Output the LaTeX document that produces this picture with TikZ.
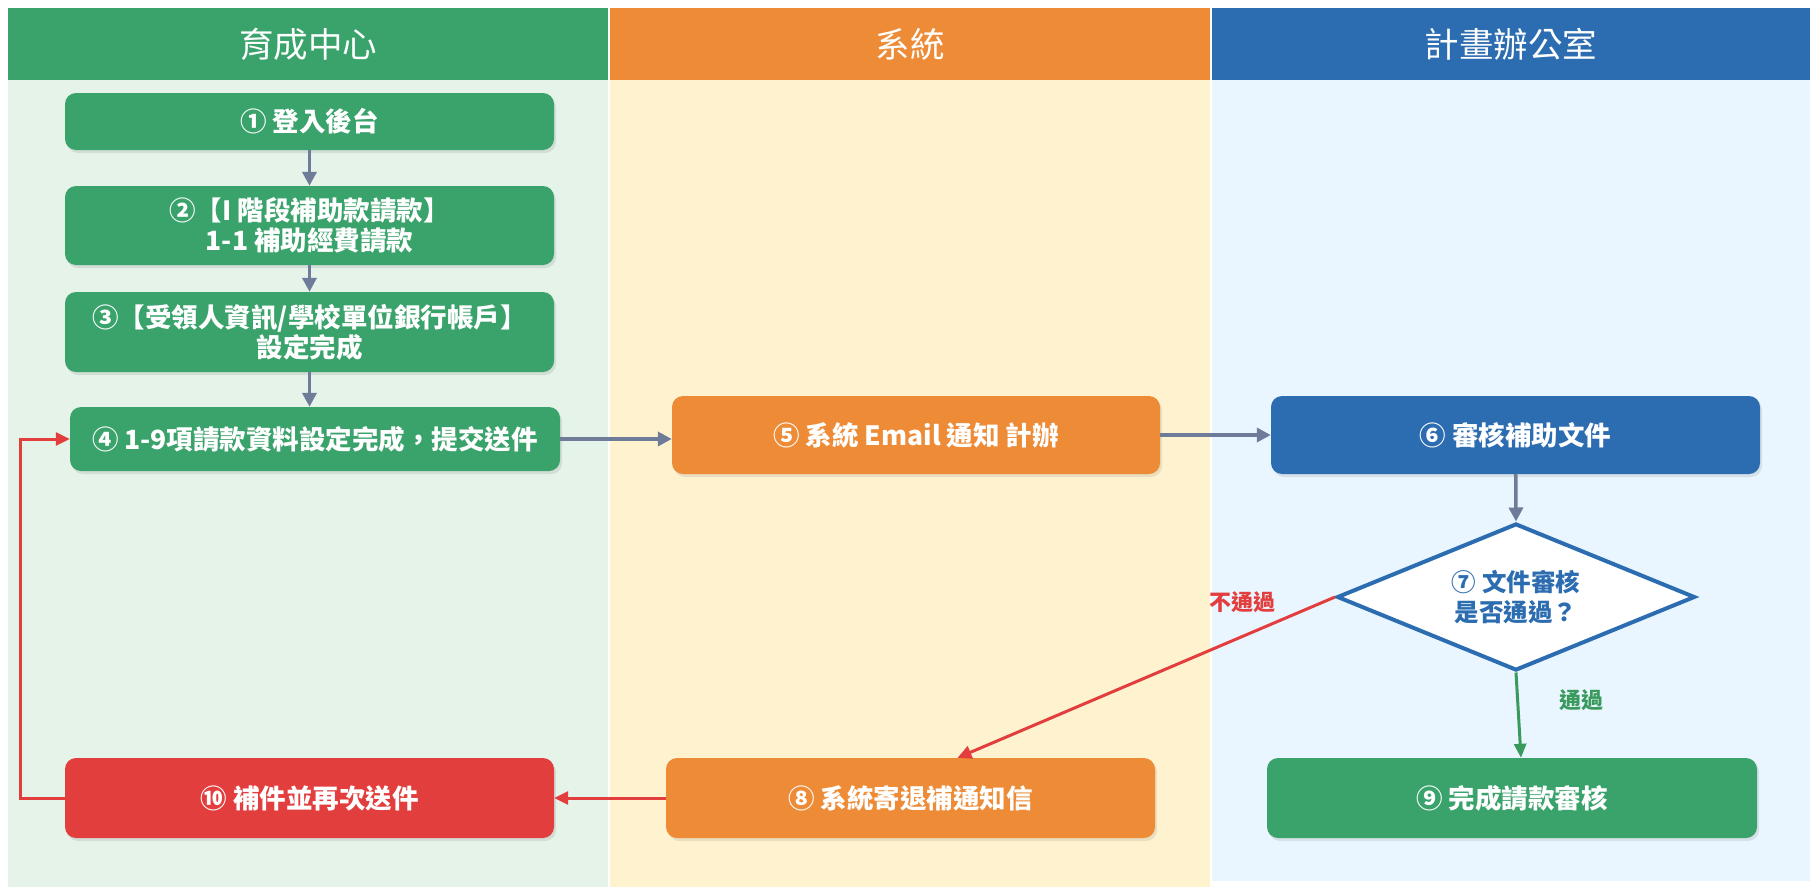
\documentclass[tikz,border=0pt]{standalone}
\usepackage{fontspec}
\setmainfont{Noto Sans CJK TC}
\usetikzlibrary{shapes.geometric,arrows.meta,shadows}
\definecolor{hgreen}{HTML}{3AA36B}
\definecolor{horange}{HTML}{ED8B37}
\definecolor{hblue}{HTML}{2C6CB0}
\definecolor{lgreen}{HTML}{E5F3E8}
\definecolor{lyellow}{HTML}{FFF3CF}
\definecolor{lblue}{HTML}{EAF6FF}
\definecolor{hred}{HTML}{E33E3E}
\definecolor{agray}{HTML}{6E7B99}
\definecolor{gline}{HTML}{3A9A5E}
\begin{document}
\begin{tikzpicture}[x=1pt,y=-1pt,
  hdr/.style={text=white,font=\fontsize{34.5}{40}\selectfont},
  box/.style={rounded corners=11pt,text=white,align=center,inner sep=0pt,
    font=\bfseries\fontsize{26.5}{30}\selectfont,
    drop shadow={opacity=0.18,shadow xshift=2pt,shadow yshift=-3pt}},
  garrow/.style={draw=agray,line width=3.5pt,-{Triangle[length=14pt,width=14pt]}},
  rarrow/.style={draw=hred,line width=3pt,-{Triangle[length=14pt,width=13pt]}},
  gnarrow/.style={draw=gline,line width=3pt,-{Triangle[length=14pt,width=12pt]}},
  lbl/.style={font=\bfseries\fontsize{22}{24}\selectfont}
]
\useasboundingbox (0,0) rectangle (1810,887);
\fill[white] (0,0) rectangle (1810,887);
% lanes
\fill[lgreen] (8,80) rectangle (608,887);
\fill[lyellow] (610,80) rectangle (1210,887);
\fill[lblue] (1212,80) rectangle (1810,881);
\fill[hgreen] (8,8) rectangle (608,80);
\fill[horange] (610,8) rectangle (1210,80);
\fill[hblue] (1212,8) rectangle (1810,80);
\node[hdr] (h1) at (308,44) {育成中心};
\node[hdr] (h2) at (910,44) {系統};
\node[hdr] (h3) at (1511,44) {計畫辦公室};
% boxes
\node[box,fill=hgreen,minimum width=489pt,minimum height=57pt] (b1) at (309.5,121.5) {① 登入後台};
\node[box,fill=hgreen,minimum width=489pt,minimum height=79pt] (b2) at (309.5,225.5) {②【I 階段補助款請款】\\1-1 補助經費請款};
\node[box,fill=hgreen,minimum width=489pt,minimum height=80pt] (b3) at (309.5,332) {③【受領人資訊/學校單位銀行帳戶】\\設定完成};
\node[box,fill=hgreen,minimum width=490pt,minimum height=64pt] (b4) at (315,439) {④ 1-9項請款資料設定完成，提交送件};
\node[box,fill=horange,minimum width=488pt,minimum height=78pt] (b5) at (916,435) {⑤ 系統 Email 通知 計辦};
\node[box,fill=hblue,minimum width=489pt,minimum height=78pt] (b6) at (1515.5,435) {⑥ 審核補助文件};
\node[diamond,aspect=2.44,draw=hblue,line width=4pt,fill=white,minimum width=358pt,minimum height=147pt,inner sep=0pt,
  text=hblue,align=center,font=\bfseries\fontsize{24.5}{30}\selectfont] (d7) at (1516,597) {⑦ 文件審核\\是否通過？};
\node[box,fill=horange,minimum width=489pt,minimum height=80pt] (b8) at (910.5,798) {⑧ 系統寄退補通知信};
\node[box,fill=hgreen,minimum width=490pt,minimum height=80pt] (b9) at (1512,798) {⑨ 完成請款審核};
\node[box,fill=hred,minimum width=489pt,minimum height=80pt] (b10) at (309.5,798) {⑩ 補件並再次送件};
\coordinate (c1) at (20,798);
% connectors
\draw[garrow] (b1) -- (b2);
\draw[garrow] (b2) -- (b3);
\draw[garrow] (b3.south) -- (b3.south |- b4.north);
\draw[garrow] (b4.east) -- (b4.east -| b5.west);
\draw[garrow] (b5.east) -- (b5.east -| b6.west);
\draw[garrow] (b6) -- (d7.north);
\draw[rarrow] (d7.west) -- ([xshift=47pt]b8.north);
\draw[gnarrow] (d7.south) -- ([xshift=9pt]b9.north);
\draw[rarrow] (b8.west) -- (b8.west -| b10.east);
\draw[rarrow] (b10.west) -- (c1) |- (b4.west);
\node[lbl,text=hred] (lno) at (1242,602) {不通過};
\node[lbl,text=gline] (lyes) at (1581,700) {通過};
\end{tikzpicture}
\end{document}
